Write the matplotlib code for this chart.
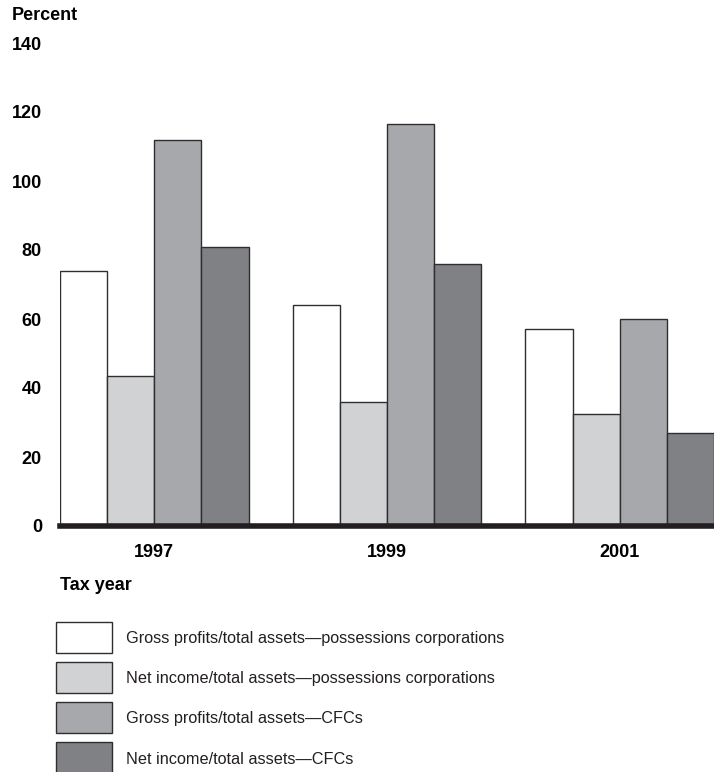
import numpy as np
import matplotlib
matplotlib.use("Agg")
import matplotlib.pyplot as plt
from matplotlib.patches import Rectangle

plt.rcParams['font.family'] = ['Liberation Sans', 'DejaVu Sans']

# Data
years = ['1997', '1999', '2001']
series_names = [
    'Gross profits/total assets\u2014possessions corporations',
    'Net income/total assets\u2014possessions corporations',
    'Gross profits/total assets\u2014CFCs',
    'Net income/total assets\u2014CFCs',
]
gross_poss = [74, 64, 57]
net_poss = [43.5, 36, 32.5]
gross_cfc = [112, 116.5, 60]
net_cfc = [81, 76, 27]
colors = ['#ffffff', '#d1d2d4', '#a7a8ab', '#808184']
yticks = [0, 20, 40, 60, 80, 100, 120, 140]

W, H = 714, 772
fig = plt.figure(figsize=(W / 100, H / 100), dpi=100)
ax = fig.add_axes([60 / W, 1 - 526 / H, 654 / W, 483 / H])

x = np.arange(len(years))
width = 0.2026
all_series = [gross_poss, net_poss, gross_cfc, net_cfc]
for i, vals in enumerate(all_series):
    ax.bar(x + (i - 1.5) * width, vals, width, color=colors[i],
           edgecolor='#2e2e30', linewidth=1.0, zorder=2)

ax.set_xlim(-2 * width, 2 + 2 * width)
ax.set_ylim(0, 140)
ax.set_yticks(yticks)
ax.set_yticklabels([str(t) for t in yticks], fontsize=13, fontweight='bold')
ax.tick_params(axis='y', length=0, pad=13)
ax.set_xticks(x)
ax.set_xticklabels(years, fontsize=13, fontweight='bold')
ax.tick_params(axis='x', length=0, pad=13)
for s in ['top', 'right', 'left']:
    ax.spines[s].set_visible(False)
ax.spines['bottom'].set_linewidth(4)
ax.spines['bottom'].set_color('#231f20')
ax.spines['bottom'].set_zorder(3)

# Titles
fig.text(12 / W, 1 - 16 / H, 'Percent', fontsize=13, fontweight='bold',
         va='center', ha='left')
fig.text(60 / W, 1 - 585 / H, 'Tax year', fontsize=13, fontweight='bold',
         va='center', ha='left')

# Legend
for i, name in enumerate(series_names):
    top = 622 + 40 * i
    fig.patches.append(Rectangle((56 / W, 1 - (top + 31) / H), 56 / W, 31 / H,
                                 transform=fig.transFigure, facecolor=colors[i],
                                 edgecolor='#2e2e30', linewidth=1.0))
    fig.text(126 / W, 1 - (top + 17) / H, name, fontsize=11.7,
             va='center', ha='left', color='#231f20')

fig.savefig('out.png', dpi=100)
